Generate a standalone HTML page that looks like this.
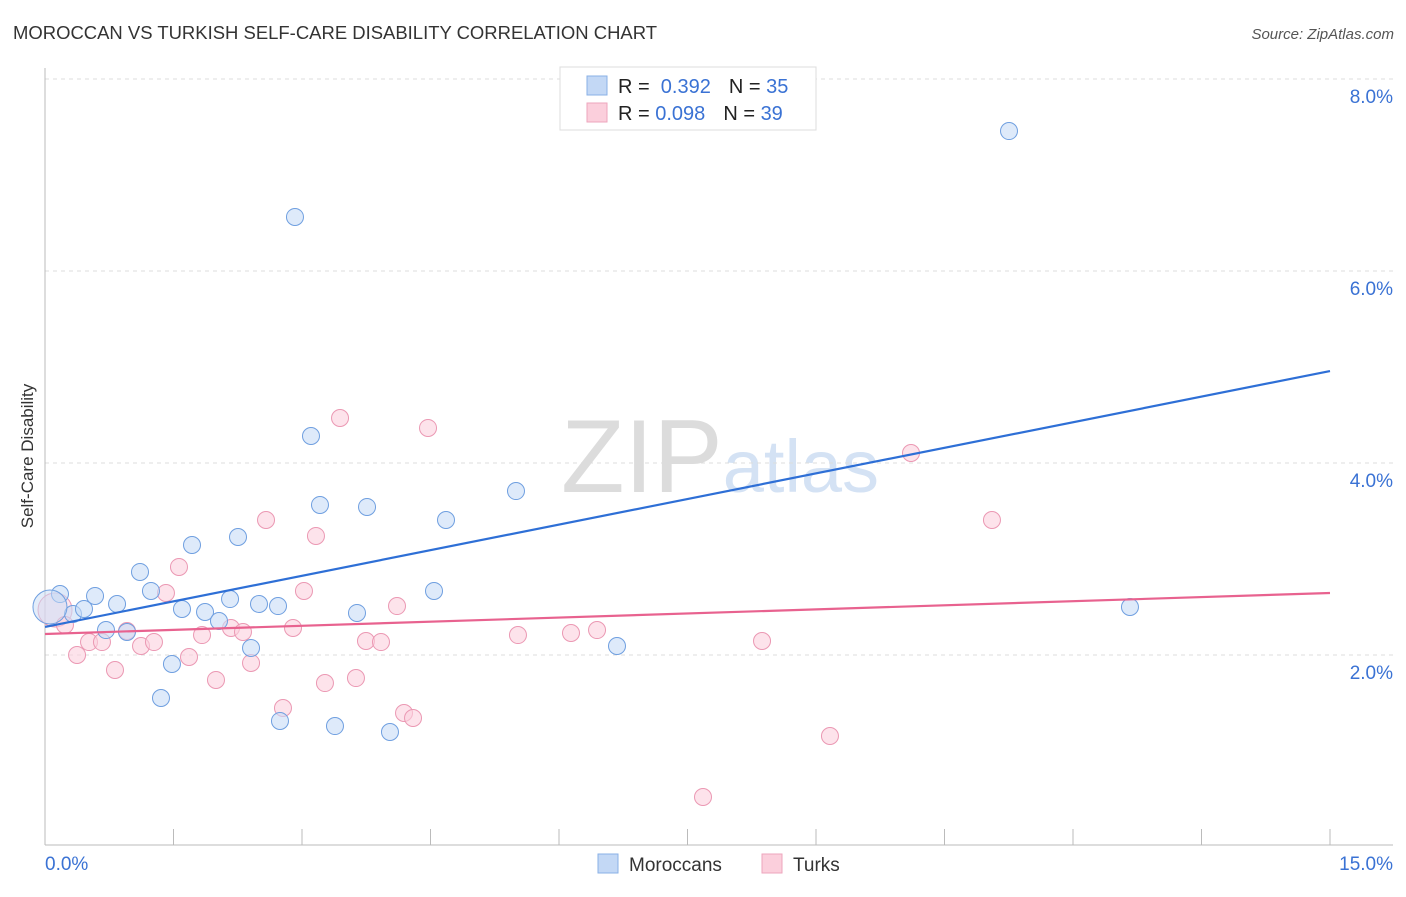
<!DOCTYPE html>
<html><head><meta charset="utf-8"><style>
body{margin:0;background:#fff;font-family:"Liberation Sans",sans-serif;}
svg text{font-family:"Liberation Sans",sans-serif;}
</style></head><body>
<svg id="chart" width="1406" height="892" viewBox="0 0 1406 892" xmlns="http://www.w3.org/2000/svg">
<text x="13" y="39" font-size="18" fill="#333" textLength="644" lengthAdjust="spacingAndGlyphs">MOROCCAN VS TURKISH SELF-CARE DISABILITY CORRELATION CHART</text>
<text x="1394" y="39" font-size="15" fill="#555" font-style="italic" text-anchor="end">Source: ZipAtlas.com</text>
<text x="720" y="492" font-size="104" fill="#e4e4e4" text-anchor="middle" font-family="Liberation Serif"><tspan fill="#dcdcdc">ZIP</tspan><tspan fill="#d4e2f4" font-family="Liberation Sans" font-size="74">atlas</tspan></text>
<text transform="translate(33,456) rotate(-90)" font-size="17" fill="#333" text-anchor="middle">Self-Care Disability</text>
<g id="grid"></g><g id="axes"></g><g id="marks"></g>
<g>
<rect x="560" y="67" width="256" height="63" fill="#fff" stroke="#ddd"/>
<rect x="587" y="76" width="20" height="19" fill="#c3d8f5" stroke="#8ab0e6"/>
<rect x="587" y="103" width="20" height="19" fill="#fbcfdc" stroke="#eea6bd"/>
<text x="618" y="93" font-size="20" fill="#222">R = <tspan fill="#3a72d4">&#160;0.392</tspan><tspan dx="18">N = </tspan><tspan fill="#3a72d4">35</tspan></text>
<text x="618" y="120" font-size="20" fill="#222">R = <tspan fill="#3a72d4">0.098</tspan><tspan dx="18">N = </tspan><tspan fill="#3a72d4">39</tspan></text>
</g>
<g>
<rect x="598" y="854" width="20" height="19" fill="#c3d8f5" stroke="#8ab0e6"/>
<text x="629" y="871" font-size="19" fill="#333">Moroccans</text>
<rect x="762" y="854" width="20" height="19" fill="#fbcfdc" stroke="#eea6bd"/>
<text x="793" y="871" font-size="19" fill="#333">Turks</text>
</g>
</svg>
<script>
const xTicks=[0,15];
const yTicks=[2,4,6,8];
const blueX=[0.175,0.327,0.455,0.584,0.712,0.841,0.957,1.109,1.237,1.354,1.482,1.599,1.716,1.868,2.031,2.160,2.253,2.405,2.498,2.720,2.743,2.918,3.105,3.210,3.385,3.642,3.759,4.027,4.541,4.681,5.498,6.677,11.253,12.665,0.058];
const blueY=[2.635,2.427,2.479,2.615,2.260,2.531,2.240,2.865,2.667,1.552,1.906,2.479,3.146,2.448,2.354,2.583,3.229,2.073,2.531,2.510,1.313,6.563,4.281,3.563,1.260,2.438,3.542,1.198,2.667,3.406,3.708,2.094,7.458,2.500,2.5];
const pinkX=[0.117,0.233,0.374,0.514,0.665,0.817,0.957,1.121,1.272,1.412,1.564,1.681,1.833,1.996,2.171,2.311,2.405,2.580,2.778,2.895,3.023,3.163,3.268,3.444,3.630,3.747,3.922,4.109,4.191,4.296,4.471,5.521,6.140,6.444,7.681,8.370,9.163,10.109,11.054];
const pinkY=[2.469,2.313,2.0,2.135,2.135,1.844,2.25,2.094,2.135,2.646,2.917,1.979,2.208,1.740,2.281,2.240,1.917,3.406,1.448,2.281,2.667,3.240,1.708,4.469,1.760,2.146,2.135,2.510,1.396,1.344,4.365,2.208,2.229,2.260,0.521,2.146,1.156,4.104,3.406];
const blueTrend=[2.292,4.958];
const pinkTrend=[2.219,2.646];
const NS="http://www.w3.org/2000/svg";
const X=v=>45+v/15*1285, Y=v=>847-v*96;
function mk(t,a,p){const e=document.createElementNS(NS,t);for(const k in a)e.setAttribute(k,a[k]);p.appendChild(e);return e;}
const grid=document.getElementById('grid'),axes=document.getElementById('axes'),marks=document.getElementById('marks');
yTicks.forEach(v=>{
 const l=mk('line',{x1:45,x2:1393,y1:Y(v),y2:Y(v),stroke:'#ddd','stroke-dasharray':'4,4'},grid);
 
 
 const t=mk('text',{x:1393,y:Y(v)+24,'font-size':19,fill:'#3a72d4','text-anchor':'end'},axes);t.textContent=v.toFixed(1)+'%';
 
 
});
const ya=mk('line',{x1:45,x2:45,y1:68,y2:845,stroke:'#bbb'},axes);


const xa=mk('line',{x1:45,x2:1393,y1:845,y2:845,stroke:'#bbb'},axes);


for(let i=1;i<=10;i++){const tk=mk('line',{x1:X(i*1.5),x2:X(i*1.5),y1:829,y2:845,stroke:'#bbb'},axes);
 
 }
xTicks.forEach((v,i)=>{const t=mk('text',{x:i?1393:45,y:870,'font-size':19,fill:'#3a72d4','text-anchor':i?'end':'start'},axes);t.textContent=v.toFixed(1)+'%';
 
 });
function pts(xs,ys,fill,stroke,name){xs.forEach((x,i)=>{const big=(i===xs.length-1&&name==='moroccan-point')||(i===0&&name==='turk-point');
 const c=mk('circle',{cx:X(x),cy:Y(ys[i]),r:big?17:8.5,fill:fill,'fill-opacity':big?0.5:0.6,stroke:stroke,'stroke-width':1},marks);
 
 });}
pts(pinkX,pinkY,'#fbd0dd','#eb98b3','turk-point');
pts(blueX,blueY,'#c8dcf6','#6f9fe0','moroccan-point');
const bl=mk('line',{x1:X(0),y1:Y(blueTrend[0]),x2:X(15),y2:Y(blueTrend[1]),stroke:'#2e6fd6','stroke-width':2.2},marks);


const pl=mk('line',{x1:X(0),y1:Y(pinkTrend[0]),x2:X(15),y2:Y(pinkTrend[1]),stroke:'#e8628f','stroke-width':2.2},marks);


</script>
</body></html>
